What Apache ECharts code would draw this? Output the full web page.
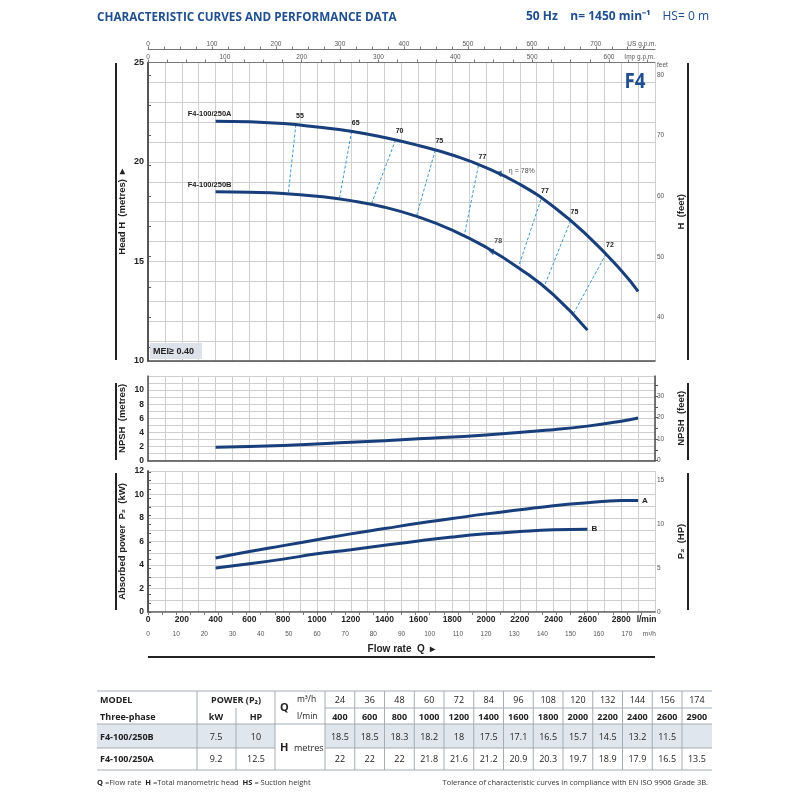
<!DOCTYPE html>
<html>
<head>
<meta charset="utf-8">
<script src="https://cdn.jsdelivr.net/npm/echarts@6/dist/echarts.min.js"></script>
<style>
html,body{margin:0;padding:0;background:#fff}
#chart{width:800px;height:800px}
</style>
</head>
<body>
<div id="chart"></div>
<script>
// ---- performance table (flow points)
var flowM3h  = [24, 36, 48, 60, 72, 84, 96, 108, 120, 132, 144, 156, 174];
var flowLmin = [400, 600, 800, 1000, 1200, 1400, 1600, 1800, 2000, 2200, 2400, 2600, 2900];
var headB = [18.5, 18.5, 18.3, 18.2, 18, 17.5, 17.1, 16.5, 15.7, 14.5, 13.2, 11.5, null];
var headA = [22, 22, 22, 21.8, 21.6, 21.2, 20.9, 20.3, 19.7, 18.9, 17.9, 16.5, 13.5];
var modelB = 'F4-100/250B', modelA = 'F4-100/250A';
var kwB = 7.5, hpB = 10, kwA = 9.2, hpA = 12.5;

// ---- head curves as drawn (m)
var curveFlowA = [400, 600, 800, 1000, 1200, 1400, 1600, 1800, 2000, 2200, 2400, 2600, 2800, 2900];
var curveHeadA = [22.05, 22.02, 21.93, 21.76, 21.55, 21.23, 20.83, 20.35, 19.72, 18.88, 17.75, 16.3, 14.55, 13.5];
var curveFlowB = [400, 600, 800, 1000, 1200, 1400, 1600, 1800, 2000, 2200, 2400, 2600];
var curveHeadB = [18.5, 18.48, 18.42, 18.28, 18.06, 17.73, 17.24, 16.58, 15.72, 14.64, 13.32, 11.55];

// ---- efficiency iso lines (point on curve A -> point on curve B)
var etaLabels = ['55', '65', '70', '75', '77', '77', '75', '72'];
var etaTop    = [[875, 21.88], [1205, 21.55], [1465, 21.11], [1700, 20.6], [1955, 19.82], [2325, 18.12], [2500, 17.05], [2710, 15.38]];
var etaBottom = [[830, 18.4], [1132, 18.13], [1320, 17.85], [1588, 17.26], [1870, 16.25], [2190, 14.68], [2343, 13.72], [2516, 12.36]];
var etaBestA = [2083, 19.38];
var etaBestB = [2037, 15.46];

// ---- NPSH (m)
var npshFlow = [400, 800, 1200, 1600, 2000, 2400, 2600, 2800, 2900];
var npshM    = [1.9, 2.15, 2.6, 3.1, 3.65, 4.4, 4.9, 5.6, 6.05];

// ---- absorbed power P2 (kW)
var powFlowA = [400, 600, 800, 1000, 1200, 1400, 1600, 1800, 2000, 2200, 2400, 2600, 2800, 2900];
var powA     = [4.6, 5.15, 5.65, 6.15, 6.65, 7.1, 7.55, 7.95, 8.35, 8.7, 9.05, 9.3, 9.48, 9.5];
var powFlowB = [400, 600, 800, 1000, 1200, 1400, 1600, 1800, 2000, 2200, 2400, 2600];
var powB     = [3.75, 4.1, 4.5, 4.95, 5.3, 5.68, 6.05, 6.38, 6.65, 6.85, 7.0, 7.05];

// ---- tick labels
var lminLabels = [0, 200, 400, 600, 800, 1000, 1200, 1400, 1600, 1800, 2000, 2200, 2400, 2600, 2800];
var m3hLabels  = [0, 10, 20, 30, 40, 50, 60, 70, 80, 90, 100, 110, 120, 130, 140, 150, 160, 170];
var usLabels   = [0, 100, 200, 300, 400, 500, 600, 700];
var impLabels  = [0, 100, 200, 300, 400, 500, 600];
var headFeetLabels = [40, 50, 60, 70, 80];
var npshFeetLabels = [0, 10, 20, 30];
var hpLabels = [0, 5, 10, 15];

function steps(a, b, s) { var r = []; for (var v = a; v <= b + 1e-9; v += s) r.push(v); return r; }
function pairs(xs, ys) { var r = []; for (var i = 0; i < xs.length; i++) if (ys[i] != null) r.push([xs[i], ys[i]]); return r; }
function ext(a, b) { var o = {}; for (var k in a) o[k] = a[k]; for (var k2 in b) o[k2] = b[k2]; return o; }

var NAVY = '#183f7b';
var BLUE = '#1f4f8f';
var FONT = 'Liberation Sans';
var gridLine = { show: true, lineStyle: { color: '#cfcfcf', width: 1 } };
var darkAxis = { show: true, lineStyle: { color: '#4d4d4d', width: 1.5 } };
var boldLbl = { fontFamily: FONT, fontWeight: 'bold', fontSize: 8.5, color: '#222' };
var smallLbl = { fontFamily: FONT, fontSize: 6.5, color: '#555' };
var nameStyle = { fontFamily: FONT, fontWeight: 'bold', fontSize: 9.5, color: '#222' };

var M2FT = 1 / 0.3048, KW2HP = 1 / 0.7457;

var chart = echarts.init(document.getElementById('chart'), null, { renderer: 'canvas' });

// head curves with model name on first point
function headSeries(xs, ys, name) {
  var d = pairs(xs, ys);
  d[0] = { value: d[0], label: { show: true, formatter: name, position: 'top', offset: [-6, 2],
    fontFamily: FONT, fontWeight: 'bold', fontSize: 7.5, color: '#222' } };
  return { type: 'line', name: name, xAxisIndex: 0, yAxisIndex: 0, data: d, smooth: 0.5,
    showSymbol: true, symbol: 'circle', symbolSize: 0.01, lineStyle: { color: NAVY, width: 3 }, z: 5 };
}

var series = [headSeries(curveFlowA, curveHeadA, modelA), headSeries(curveFlowB, curveHeadB, modelB)];

etaLabels.forEach(function (lab, i) {
  series.push({
    type: 'line', xAxisIndex: 0, yAxisIndex: 0, smooth: false, showSymbol: true, symbol: 'circle', symbolSize: 0.01, z: 3,
    lineStyle: { color: '#3c97d4', width: 1, type: [3, 2] },
    data: [
      { value: etaTop[i], label: { show: true, formatter: lab, position: 'top', offset: [4, 0],
        fontFamily: FONT, fontWeight: 'bold', fontSize: 7, color: '#222' } },
      etaBottom[i]
    ]
  });
});

series.push({
  type: 'scatter', xAxisIndex: 0, yAxisIndex: 0, symbol: 'triangle', symbolSize: 6, symbolRotate: 200, z: 6,
  itemStyle: { color: NAVY },
  data: [
    { value: etaBestA, label: { show: true, formatter: 'η = 78%', position: 'right', offset: [0, -3] } },
    { value: etaBestB, label: { show: true, formatter: '78', position: 'top', offset: [6, 1], fontWeight: 'bold' } }
  ],
  label: { fontFamily: FONT, fontSize: 7, color: '#222' }
});

series.push({
  type: 'line', xAxisIndex: 3, yAxisIndex: 2, data: pairs(npshFlow, npshM), smooth: 0.5,
  showSymbol: false, symbol: 'none', lineStyle: { color: NAVY, width: 3 }
});

function powSeries(xs, ys, tag) {
  return { type: 'line', xAxisIndex: 4, yAxisIndex: 4, data: pairs(xs, ys), smooth: 0.5,
    showSymbol: false, symbol: 'none', lineStyle: { color: NAVY, width: 3 },
    endLabel: { show: true, formatter: tag, distance: 4, fontFamily: FONT, fontWeight: 'bold', fontSize: 8, color: '#222' } };
}
series.push(powSeries(powFlowA, powA, 'A'));
series.push(powSeries(powFlowB, powB, 'B'));

// ---- graphic: header, decorations, table
var G = [];
function text(x, y, s, st, extra) {
  var style = { text: s, x: 0, y: 0, fill: '#222', fontFamily: FONT, fontSize: 9, align: 'left', verticalAlign: 'middle' };
  for (var k in st) style[k] = st[k];
  var el = { type: 'text', x: x, y: y, style: style, z: 10 };
  for (var k2 in extra) el[k2] = extra[k2];
  G.push(el);
}
function line(x1, y1, x2, y2, c, w) {
  G.push({ type: 'line', shape: { x1: x1, y1: y1, x2: x2, y2: y2 }, style: { stroke: c || '#a5acb3', lineWidth: w || 1 }, z: 9 });
}

text(97, 17, 'CHARACTERISTIC CURVES AND PERFORMANCE DATA', { fill: BLUE, fontWeight: 'bold', fontSize: 13, fontFamily: 'Open Sans' }, { scaleX: 0.9 });
text(526, 17, '50 Hz    n= 1450 min⁻¹', { fill: BLUE, fontWeight: 'bold', fontSize: 12, fontFamily: 'Open Sans' });
text(709, 17, 'HS= 0 m', { fill: BLUE, fontSize: 12, fontFamily: 'Open Sans', align: 'right' });
text(635, 82, 'F4', { fill: BLUE, fontWeight: 'bold', fontSize: 22, align: 'center', fontFamily: 'Open Sans' }, { scaleX: 0.85 });

G.push({ type: 'rect', shape: { x: 150, y: 343, width: 52, height: 16 }, style: { fill: '#dde2ea' }, z: 8 });
text(153, 351.5, 'MEI≥ 0.40', { fontWeight: 'bold', fontSize: 9 });

// side bars
[[63, 360], [383, 460], [473, 610]].forEach(function (r) {
  line(116, r[0], 116, r[1], '#222', 2);
  line(688, r[0], 688, r[1], '#222', 2);
});
line(148, 657, 655, 657, '#222', 2);

// table
var tL = 97, tR = 712, c0 = 325, cw = 29.75;
var yTop = 691, yR1 = 700, yMid = 708, yR2 = 717, yHd = 724, yB = 737, yBB = 748, yA = 759, yBot = 770;
G.push({ type: 'rect', shape: { x: tL, y: yHd, width: 275 - tL, height: yBB - yHd }, style: { fill: '#dfe6ee' }, z: 8 });
G.push({ type: 'rect', shape: { x: c0, y: yHd, width: tR - c0, height: yBB - yHd }, style: { fill: '#dfe6ee' }, z: 8 });
line(tL, yTop, tR, yTop);
line(c0, yMid, tR, yMid);
line(tL, yHd, tR, yHd);
line(tL, yBB, 275, yBB); line(c0, yBB, tR, yBB);
line(tL, yBot, tR, yBot);
line(197, yTop, 197, yBot); line(236, yMid, 236, yBot); line(275, yTop, 275, yBot); line(c0, yTop, c0, yBot);
for (var j = 1; j < flowLmin.length; j++) line(c0 + j * cw, yTop, c0 + j * cw, yBot);

var tf = { fontFamily: 'Open Sans', fontSize: 9, fill: '#222' };
var tfb = { fontFamily: 'Open Sans', fontSize: 9, fill: '#222', fontWeight: 'bold' };
text(100, yR1, 'MODEL', tfb);
text(100, yR2, 'Three-phase', tfb);
text(236, yR1, 'POWER (P₂)', ext(tfb, { align: 'center' }));
text(216, yR2, 'kW', ext(tfb, { align: 'center' }));
text(256, yR2, 'HP', ext(tfb, { align: 'center' }));
text(280, yMid, 'Q', ext(tfb, { fontSize: 11 }));
text(297, yR1, 'm³/h', ext(tf, { fontSize: 8.5 }));
text(297, yR2, 'l/min', ext(tf, { fontSize: 8.5 }));
text(280, yBB, 'H', ext(tfb, { fontSize: 11 }));
text(294, yBB, 'metres', tf);
text(100, yB, modelB, tfb);
text(100, yA, modelA, tfb);
text(216, yB, String(kwB), ext(tf, { align: 'center' }));
text(256, yB, String(hpB), ext(tf, { align: 'center' }));
text(216, yA, String(kwA), ext(tf, { align: 'center' }));
text(256, yA, String(hpA), ext(tf, { align: 'center' }));
flowLmin.forEach(function (q, i) {
  var cx = c0 + (i + 0.5) * cw;
  text(cx, yR1, String(flowM3h[i]), ext(tf, { align: 'center' }));
  text(cx, yR2, String(q), ext(tfb, { align: 'center' }));
  if (headB[i] != null) text(cx, yB, String(headB[i]), ext(tf, { align: 'center' }));
  text(cx, yA, String(headA[i]), ext(tf, { align: 'center' }));
});
text(97, 783, '{b|Q} =Flow rate  {b|H} =Total manometric head  {b|HS} = Suction height',
  { fontFamily: 'Open Sans', fontSize: 7.5, fill: '#333', rich: { b: { fontWeight: 'bold', fontFamily: 'Open Sans', fontSize: 7.5, fill: '#222' } } });
text(708, 783, 'Tolerance of characteristic curves in compliance with EN ISO 9906 Grade 3B.',
  { fontFamily: 'Open Sans', fontSize: 7.5, fill: '#333', align: 'right' });

var leftName = { nameLocation: 'middle', nameRotate: 90, nameGap: 21, nameMoveOverlap: false, nameTextStyle: nameStyle };
var rightName = { nameLocation: 'middle', nameRotate: 90, nameGap: 21, nameMoveOverlap: false, nameTextStyle: nameStyle };

var option = {
  animation: false,
  backgroundColor: '#fff',
  grid: [
    { left: 148, right: 145, top: 62.5, height: 298.5 },
    { left: 148, right: 145, top: 376, height: 84.7 },
    { left: 148, right: 145, top: 471, height: 141 }
  ],
  xAxis: [
    { gridIndex: 0, type: 'value', min: 0, max: 3000, interval: 100, axisLine: darkAxis, axisTick: { show: false },
      axisLabel: { show: false }, splitLine: gridLine },
    { gridIndex: 0, type: 'value', position: 'top', min: 0, max: 3000 / 4.546,
      axisLine: { show: true, lineStyle: { color: '#777', width: 1 } },
      axisTick: { show: true, length: 3, customValues: steps(0, 650, 25), lineStyle: { color: '#777' } },
      axisLabel: ext(smallLbl, { margin: 2, customValues: impLabels.concat([640]),
        formatter: function (v) { return v === 640 ? 'Imp g.p.m.' : v; } }),
      splitLine: { show: false } },
    { gridIndex: 0, type: 'value', position: 'top', offset: 13, min: 0, max: 3000 / 3.785,
      axisLine: { show: true, lineStyle: { color: '#777', width: 1 } },
      axisTick: { show: true, length: 3, customValues: steps(0, 775, 25), lineStyle: { color: '#777' } },
      axisLabel: ext(smallLbl, { margin: 2, customValues: usLabels.concat([772]),
        formatter: function (v) { return v === 772 ? 'US g.p.m.' : v; } }),
      splitLine: { show: false } },
    { gridIndex: 1, type: 'value', min: 0, max: 3000, interval: 100, axisLine: darkAxis, axisTick: { show: false },
      axisLabel: { show: false }, splitLine: gridLine },
    { gridIndex: 2, type: 'value', min: 0, max: 3000, interval: 100, axisLine: darkAxis, axisTick: { show: false },
      axisLabel: ext(boldLbl, { margin: 3, customValues: lminLabels.concat([2950]),
        formatter: function (v) { return v === 2950 ? 'l/min' : v; } }),
      splitLine: gridLine },
    { gridIndex: 2, type: 'value', position: 'bottom', offset: 17, min: 0, max: 180,
      axisLine: { show: true, lineStyle: { color: '#999', width: 0.8 } },
      axisTick: { show: true, length: 3, customValues: steps(0, 175, 5), lineStyle: { color: '#777' } },
      axisLabel: ext(smallLbl, { margin: 2, customValues: m3hLabels.concat([178]),
        formatter: function (v) { return v === 178 ? 'm³/h' : v; } }),
      splitLine: { show: false },
      name: 'Flow rate  Q  ▸', nameLocation: 'middle', nameGap: 15, nameMoveOverlap: false, nameTextStyle: ext(nameStyle, { fontSize: 10 }) }
  ],
  yAxis: [
    ext(leftName, { gridIndex: 0, type: 'value', min: 10, max: 25, interval: 1, axisLine: darkAxis, axisTick: { show: false },
      axisLabel: ext(boldLbl, { fontSize: 9, margin: 4, formatter: function (v) { return v % 5 === 0 ? v : ''; } }),
      splitLine: gridLine, name: 'Head H  (metres)  ▸' }),
    ext(rightName, { gridIndex: 0, type: 'value', position: 'right', min: 10 * M2FT, max: 25 * M2FT,
      axisLine: darkAxis,
      axisTick: { show: true, length: 3, customValues: steps(35, 80, 5), lineStyle: { color: '#555' } },
      axisLabel: ext(smallLbl, { margin: 2, customValues: headFeetLabels.concat([81.6]),
        formatter: function (v) { return v === 81.6 ? 'feet' : v; } }),
      splitLine: { show: false }, name: 'H  (feet)' }),
    ext(leftName, { gridIndex: 1, type: 'value', min: 0, max: 12, interval: 1, axisLine: darkAxis, axisTick: { show: false },
      axisLabel: ext(boldLbl, { margin: 4, formatter: function (v) { return (v % 2 === 0 && v <= 10) ? v : ''; } }),
      splitLine: gridLine, name: 'NPSH  (metres)' }),
    ext(rightName, { gridIndex: 1, type: 'value', position: 'right', min: 0, max: 12 * M2FT,
      axisLine: darkAxis,
      axisTick: { show: true, length: 3, customValues: steps(0, 35, 5), lineStyle: { color: '#555' } },
      axisLabel: ext(smallLbl, { margin: 2, customValues: npshFeetLabels }),
      splitLine: { show: false }, name: 'NPSH  (feet)' }),
    ext(leftName, { gridIndex: 2, type: 'value', min: 0, max: 12, interval: 1, axisLine: darkAxis, axisTick: { show: false },
      axisLabel: ext(boldLbl, { margin: 4, formatter: function (v) { return v % 2 === 0 ? v : ''; } }),
      splitLine: gridLine, name: 'Absorbed power  P₂  (kW)' }),
    ext(rightName, { gridIndex: 2, type: 'value', position: 'right', min: 0, max: 12 * KW2HP,
      axisLine: darkAxis,
      axisTick: { show: true, length: 3, customValues: steps(0, 16, 1), lineStyle: { color: '#555' } },
      axisLabel: ext(smallLbl, { margin: 2, customValues: hpLabels }),
      splitLine: { show: false }, name: 'P₂  (HP)' })
  ],
  series: series,
  graphic: G
};
chart.setOption(option);
</script>
</body>
</html>
